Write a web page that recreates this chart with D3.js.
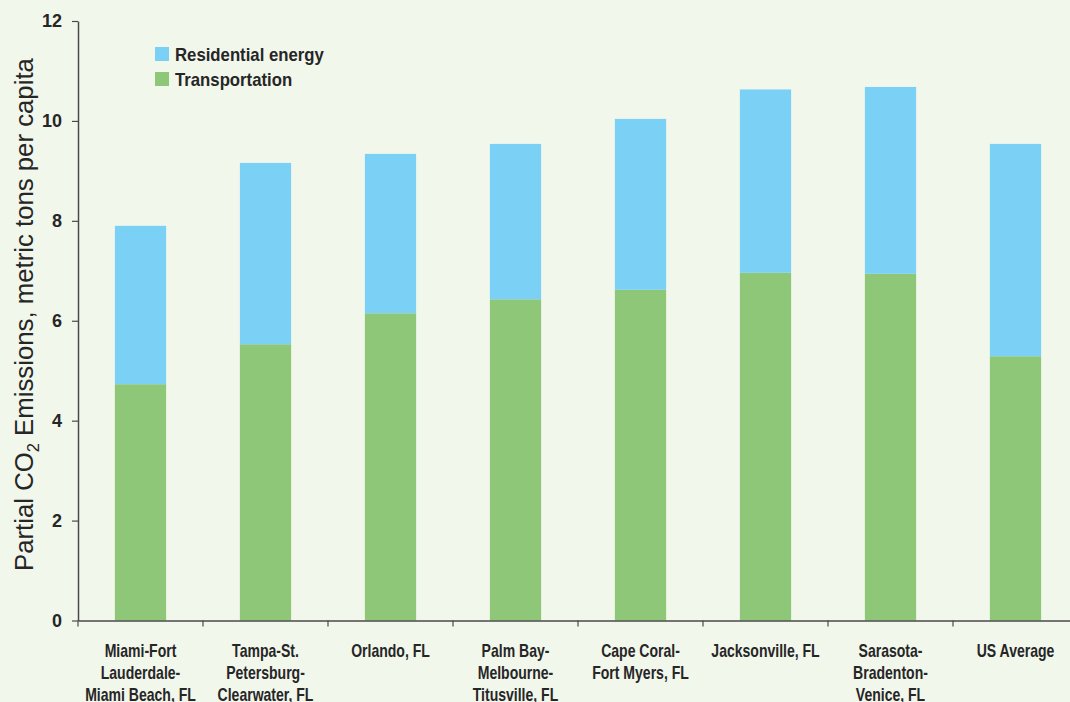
<!DOCTYPE html>
<html>
<head>
<meta charset="utf-8">
<script src="https://cdn.jsdelivr.net/npm/d3@7"></script>
<style>
  html, body { margin: 0; padding: 0; background: #f2f7ec; }
  svg { display: block; overflow: hidden; }
</style>
</head>
<body>
<svg id="chart" width="1070" height="702"></svg>
<script>
// ---- data ----
const categories = [
  "Miami-Fort Lauderdale-Miami Beach, FL",
  "Tampa-St. Petersburg-Clearwater, FL",
  "Orlando, FL",
  "Palm Bay-Melbourne-Titusville, FL",
  "Cape Coral-Fort Myers, FL",
  "Jacksonville, FL",
  "Sarasota-Bradenton-Venice, FL",
  "US Average"
];
const categoryLines = [
  ["Miami-Fort", "Lauderdale-", "Miami Beach, FL"],
  ["Tampa-St.", "Petersburg-", "Clearwater, FL"],
  ["Orlando, FL"],
  ["Palm Bay-", "Melbourne-", "Titusville, FL"],
  ["Cape Coral-", "Fort Myers, FL"],
  ["Jacksonville, FL"],
  ["Sarasota-", "Bradenton-", "Venice, FL"],
  ["US Average"]
];
const transportation = [4.73, 5.53, 6.15, 6.43, 6.62, 6.96, 6.94, 5.29];
const residential    = [3.17, 3.63, 3.19, 3.11, 3.42, 3.67, 3.74, 4.25];
const seriesNames = ["Residential energy", "Transportation"];
const yTicks = [0, 2, 4, 6, 8, 10, 12];

// ---- layout ----
const svg = d3.select("#chart");
const mLeft = 78, mTop = 21, mBottom = 620.5, mRight = 1078;
const colors = { "Transportation": "#8ec777", "Residential energy": "#7ad0f5" };
const textColor = "#262626";
const condensedFont = "'Liberation Sans', Arial, sans-serif";

const x = d3.scaleBand().domain(categories).range([mLeft, mRight])
  .paddingInner(0.59).paddingOuter(0.295);
const y = d3.scaleLinear().domain([0, 12]).range([mBottom, mTop]);

const rows = categories.map((c, i) => ({
  cat: c, "Transportation": transportation[i], "Residential energy": residential[i]
}));
const stacked = d3.stack().keys(["Transportation", "Residential energy"])(rows);

svg.append("g").selectAll("g").data(stacked).join("g")
  .attr("fill", d => colors[d.key])
  .selectAll("rect").data(d => d).join("rect")
  .attr("x", d => x(d.data.cat))
  .attr("width", x.bandwidth())
  .attr("y", d => y(d[1]))
  .attr("height", d => y(d[0]) - y(d[1]));

// y axis
const yAxis = svg.append("g").attr("transform", `translate(${mLeft},0)`)
  .call(d3.axisLeft(y).tickValues(yTicks).tickSize(6).tickPadding(10).tickSizeOuter(0));
yAxis.select(".domain").attr("stroke", "#4a4a4a").attr("stroke-width", 1.5);
yAxis.selectAll(".tick line").attr("stroke", "#4a4a4a").attr("stroke-width", 1.2);
yAxis.selectAll(".tick text")
  .attr("fill", textColor)
  .style("font-family", "'Liberation Sans', Arial, sans-serif")
  .style("font-weight", "bold").style("font-size", "18px");

// x axis line
const xAxis = svg.append("g").attr("transform", `translate(0,${mBottom})`)
  .call(d3.axisBottom(x).tickSize(0).tickFormat(() => "").tickSizeOuter(0));
xAxis.select(".domain").attr("stroke", "#4a4a4a").attr("stroke-width", 1.5);

// boundary ticks
const gap = (x.step() - x.bandwidth()) / 2;
const bounds = categories.map(c => x(c) - gap);
svg.append("g").selectAll("line").data(bounds).join("line")
  .attr("x1", d => d).attr("x2", d => d)
  .attr("y1", mBottom).attr("y2", mBottom + 6)
  .attr("stroke", "#4a4a4a").attr("stroke-width", 1.2);

// category labels (condensed via horizontal scale)
const lab = svg.append("g").selectAll("text").data(categories).join("text")
  .attr("transform", c => `translate(${x(c) + x.bandwidth() / 2},0) scale(0.78,1)`)
  .attr("text-anchor", "middle")
  .attr("fill", textColor)
  .style("font-family", condensedFont)
  .style("font-weight", "bold").style("font-size", "18px");
lab.each(function(c, i) {
  const t = d3.select(this);
  categoryLines[i].forEach((line, j) => {
    t.append("tspan").attr("x", 0).attr("y", 657 + j * 22).text(line);
  });
});

// y title
const title = svg.append("text")
  .attr("text-anchor", "start")
  .attr("fill", textColor)
  .style("font-family", "'Liberation Sans', Arial, sans-serif")
  .style("font-size", "25px");
title.append("tspan").text("Partial CO");
title.append("tspan").attr("dy", 6).style("font-size", "16px").text("2");
title.append("tspan").attr("dy", -6).text(" Emissions, metric tons per capita");
const tLen = title.node().getComputedTextLength();
const tScale = (571 - 58) / tLen;
title.attr("transform", `translate(33,571) rotate(-90) scale(${tScale},1)`);

// legend
const legend = svg.append("g").selectAll("g").data(seriesNames).join("g")
  .attr("transform", (d, i) => `translate(155,${47 + i * 25})`);
legend.append("rect").attr("width", 14).attr("height", 14).attr("fill", d => colors[d]);
legend.append("text")
  .attr("transform", "translate(20,14) scale(0.93,1)")
  .attr("fill", textColor)
  .style("font-family", condensedFont)
  .style("font-weight", "bold").style("font-size", "18px")
  .text(d => d);
</script>
</body>
</html>
